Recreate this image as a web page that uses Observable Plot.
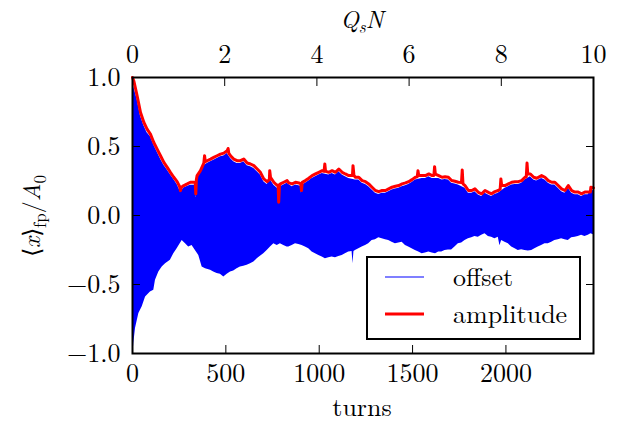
<!DOCTYPE html>
<html><head><meta charset="utf-8">
<script src="https://cdn.jsdelivr.net/npm/d3@7"></script>
<script src="https://cdn.jsdelivr.net/npm/@observablehq/plot@0.6"></script>
<style>body{margin:0;background:#fff}</style>
</head><body><div id="chart"></div>
<script>
// turns per unit of Q_s N (top axis: 10 at the right edge)
const qsTurns = 246.9;
const turnTicks = [0, 500, 1000, 1500, 2000];
const qsTicks = [0, 2, 4, 6, 8, 10];
const yTicks = [-1, -0.5, 0, 0.5, 1];
const legendLabels = ["offset", "amplitude"];

// amplitude (red) [turns, value]
const amplitude = [[0,1.0],[7,0.975],[25,0.866],[43,0.746],[61,0.674],[78,0.626],[96,0.590],[114,0.529],[132,0.481],[150,0.433],[168,0.385],[186,0.349],[203,0.313],[221,0.277],[239,0.245],[252,0.21],[257,0.18],[262,0.205],[275,0.217],[293,0.229],[310,0.241],[328,0.241],[336,0.24],[339,0.157],[342,0.26],[346,0.289],[364,0.325],[382,0.380],[386,0.433],[390,0.39],[400,0.397],[418,0.409],[435,0.421],[453,0.433],[471,0.445],[489,0.452],[507,0.469],[512,0.486],[516,0.45],[525,0.433],[542,0.409],[560,0.397],[578,0.397],[596,0.409],[614,0.380],[632,0.373],[650,0.361],[668,0.337],[685,0.313],[703,0.265],[721,0.245],[733,0.26],[735,0.325],[739,0.277],[757,0.241],[775,0.217],[780,0.22],[783,0.096],[787,0.22],[792,0.229],[810,0.241],[828,0.253],[837,0.236],[855,0.229],[873,0.241],[891,0.236],[901,0.23],[905,0.181],[909,0.24],[926,0.253],[944,0.27],[962,0.289],[980,0.301],[998,0.313],[1016,0.325],[1026,0.32],[1030,0.373],[1034,0.32],[1051,0.313],[1069,0.325],[1087,0.313],[1105,0.337],[1123,0.313],[1140,0.301],[1158,0.289],[1178,0.29],[1181,0.361],[1186,0.29],[1194,0.277],[1212,0.277],[1230,0.253],[1248,0.245],[1265,0.229],[1283,0.205],[1301,0.181],[1319,0.173],[1337,0.181],[1355,0.181],[1372,0.193],[1390,0.205],[1408,0.212],[1426,0.217],[1444,0.229],[1462,0.236],[1479,0.245],[1497,0.26],[1515,0.277],[1525,0.28],[1529,0.325],[1533,0.29],[1551,0.289],[1569,0.289],[1587,0.301],[1605,0.289],[1614,0.29],[1618,0.354],[1622,0.3],[1640,0.289],[1658,0.277],[1674,0.28],[1692,0.277],[1709,0.253],[1727,0.248],[1745,0.241],[1762,0.24],[1766,0.33],[1770,0.23],[1781,0.217],[1799,0.181],[1817,0.181],[1834,0.193],[1852,0.168],[1870,0.157],[1888,0.181],[1906,0.168],[1923,0.157],[1941,0.173],[1959,0.181],[1969,0.19],[1973,0.265],[1977,0.22],[1995,0.217],[2013,0.229],[2031,0.241],[2049,0.245],[2066,0.245],[2084,0.253],[2102,0.277],[2109,0.28],[2113,0.38],[2117,0.3],[2131,0.301],[2149,0.277],[2164,0.27],[2191,0.289],[2209,0.277],[2227,0.253],[2245,0.241],[2262,0.241],[2280,0.217],[2298,0.193],[2316,0.181],[2334,0.217],[2352,0.181],[2370,0.17],[2387,0.17],[2405,0.157],[2423,0.17],[2441,0.17],[2452,0.17],[2455,0.205],[2469,0.2]];

// offset (blue) upper envelope [turns, value]
const offsetUpper = [[0,0.97],[7,0.93],[25,0.84],[43,0.72],[61,0.65],[78,0.6],[96,0.57],[114,0.51],[132,0.46],[150,0.41],[168,0.365],[186,0.33],[203,0.295],[221,0.26],[239,0.225],[257,0.17],[275,0.2],[293,0.21],[310,0.22],[328,0.22],[336,0.22],[339,0.13],[342,0.24],[346,0.27],[364,0.305],[382,0.36],[400,0.377],[418,0.39],[435,0.4],[453,0.413],[471,0.425],[489,0.432],[507,0.45],[525,0.413],[542,0.39],[560,0.377],[578,0.377],[596,0.39],[614,0.36],[632,0.353],[650,0.34],[668,0.317],[685,0.293],[703,0.245],[721,0.225],[739,0.257],[757,0.22],[775,0.197],[780,0.2],[783,0.09],[786,0.2],[792,0.209],[810,0.221],[828,0.233],[855,0.209],[873,0.221],[891,0.216],[902,0.21],[905,0.16],[908,0.22],[926,0.233],[944,0.25],[962,0.269],[980,0.281],[998,0.293],[1016,0.305],[1051,0.293],[1069,0.305],[1087,0.293],[1105,0.317],[1123,0.293],[1140,0.281],[1158,0.269],[1194,0.257],[1212,0.257],[1230,0.233],[1248,0.225],[1265,0.209],[1283,0.185],[1301,0.161],[1319,0.153],[1337,0.161],[1355,0.161],[1372,0.173],[1390,0.185],[1408,0.192],[1426,0.197],[1444,0.209],[1462,0.216],[1479,0.225],[1497,0.24],[1515,0.257],[1551,0.269],[1569,0.269],[1587,0.281],[1605,0.269],[1640,0.269],[1658,0.257],[1674,0.26],[1692,0.257],[1709,0.233],[1727,0.228],[1745,0.221],[1781,0.197],[1799,0.161],[1817,0.161],[1834,0.173],[1852,0.148],[1870,0.137],[1888,0.161],[1906,0.148],[1923,0.137],[1941,0.153],[1959,0.161],[1995,0.197],[2013,0.209],[2031,0.221],[2049,0.225],[2066,0.225],[2084,0.233],[2102,0.257],[2131,0.281],[2149,0.257],[2164,0.25],[2191,0.269],[2209,0.257],[2227,0.233],[2245,0.221],[2262,0.221],[2280,0.197],[2298,0.173],[2316,0.161],[2334,0.197],[2352,0.161],[2370,0.15],[2387,0.15],[2405,0.137],[2423,0.15],[2441,0.15],[2455,0.185],[2469,0.18]];

// offset (blue) lower envelope [turns, value]
const offsetLower = [[0,-0.97],[4,-0.98],[7,-0.926],[16,-0.818],[34,-0.710],[52,-0.662],[70,-0.590],[96,-0.554],[114,-0.542],[123,-0.469],[141,-0.409],[159,-0.373],[177,-0.349],[203,-0.325],[221,-0.277],[239,-0.241],[266,-0.181],[284,-0.205],[301,-0.229],[319,-0.217],[337,-0.253],[355,-0.289],[373,-0.373],[391,-0.385],[418,-0.397],[435,-0.409],[453,-0.421],[471,-0.426],[489,-0.445],[507,-0.426],[525,-0.409],[542,-0.402],[560,-0.385],[578,-0.373],[596,-0.368],[614,-0.361],[632,-0.349],[650,-0.337],[668,-0.313],[685,-0.296],[703,-0.277],[721,-0.253],[739,-0.229],[757,-0.205],[775,-0.217],[792,-0.205],[810,-0.217],[828,-0.229],[837,-0.229],[855,-0.217],[873,-0.205],[891,-0.21],[908,-0.217],[926,-0.229],[944,-0.241],[962,-0.265],[980,-0.277],[998,-0.289],[1016,-0.301],[1033,-0.313],[1051,-0.306],[1069,-0.301],[1087,-0.306],[1105,-0.297],[1123,-0.289],[1140,-0.277],[1158,-0.265],[1176,-0.26],[1181,-0.349],[1186,-0.26],[1194,-0.253],[1212,-0.241],[1230,-0.229],[1248,-0.217],[1265,-0.205],[1283,-0.181],[1301,-0.176],[1319,-0.161],[1337,-0.169],[1355,-0.176],[1372,-0.181],[1390,-0.193],[1408,-0.205],[1426,-0.2],[1444,-0.193],[1462,-0.217],[1479,-0.229],[1497,-0.241],[1515,-0.253],[1533,-0.265],[1551,-0.277],[1569,-0.272],[1587,-0.265],[1605,-0.272],[1623,-0.277],[1640,-0.265],[1656,-0.265],[1674,-0.253],[1692,-0.25],[1709,-0.25],[1727,-0.229],[1745,-0.205],[1763,-0.2],[1781,-0.181],[1799,-0.169],[1817,-0.161],[1834,-0.152],[1852,-0.157],[1870,-0.144],[1888,-0.132],[1906,-0.152],[1923,-0.157],[1941,-0.169],[1959,-0.157],[1968,-0.22],[1977,-0.181],[1995,-0.193],[2013,-0.205],[2031,-0.229],[2049,-0.241],[2066,-0.253],[2084,-0.248],[2102,-0.253],[2120,-0.258],[2138,-0.253],[2155,-0.241],[2173,-0.229],[2191,-0.217],[2209,-0.205],[2227,-0.205],[2245,-0.193],[2262,-0.181],[2280,-0.176],[2298,-0.169],[2316,-0.176],[2334,-0.181],[2352,-0.161],[2370,-0.157],[2387,-0.152],[2405,-0.144],[2423,-0.152],[2441,-0.144],[2455,-0.132],[2469,-0.14]];

const FONT = "'Latin Modern Roman', 'CMU Serif', 'Liberation Serif', serif";
const FS = "26px";
const chart = Plot.plot({
  width: 628, height: 426,
  marginLeft: 132, marginRight: 35, marginTop: 77, marginBottom: 73,
  style: {fontFamily: FONT, fontSize: FS, background: "#fff", color: "#000"},
  x: {domain: [0, qsTurns * 10]},
  y: {domain: [-1, 1]},
  marks: [
    Plot.areaY(offsetUpper, {x: d => d[0], y1: 0, y2: d => d[1], fill: "#0000ff"}),
    Plot.areaY(offsetLower, {x: d => d[0], y1: d => d[1], y2: 0, fill: "#0000ff"}),
    Plot.line(amplitude, {x: d => d[0], y: d => d[1], stroke: "#ff0000", strokeWidth: 3}),
    Plot.axisX({anchor: "bottom", ticks: turnTicks, tickFormat: d => String(d), tickSize: -8, tickPadding: 18, label: null, fontFamily: FONT, fontSize: 26}),
    Plot.axisX({anchor: "top", ticks: qsTicks.map(k => k * qsTurns), tickFormat: d => String(Math.round(d / qsTurns)), tickSize: -8, tickPadding: 23, label: null, fontFamily: FONT, fontSize: 26}),
    Plot.axisY({anchor: "left", ticks: yTicks, tickFormat: d3.format(".1f"), tickSize: -8, tickPadding: 20, label: null, fontFamily: FONT, fontSize: 26}),
    Plot.axisY({anchor: "right", ticks: yTicks, tickFormat: () => "", tickSize: -8, tickPadding: 0, label: null}),
    Plot.frame({stroke: "#000", strokeWidth: 2})
  ]
});
chart.setAttribute("font-family", FONT);
document.getElementById("chart").appendChild(chart);

const svg = d3.select(chart);
function txt(sel, fs) { return sel.attr("font-family", FONT).style("font-family", FONT).style("font-size", fs || FS); }
// top label Q_s N
const tl = txt(svg.append("text").attr("x", 362).attr("y", 28).attr("text-anchor", "middle"), "24px");
tl.append("tspan").attr("font-style", "italic").text("Q");
tl.append("tspan").attr("font-style", "italic").attr("dy", 5).style("font-size", "17px").text("s");
tl.append("tspan").attr("font-style", "italic").attr("dy", -5).text("N");
// bottom label
txt(svg.append("text").attr("x", 362).attr("y", 416).attr("text-anchor", "middle")).text("turns");
// y label
const yl = txt(svg.append("text").attr("transform", "translate(40,216) rotate(-90)").attr("text-anchor", "middle"), "24px");
yl.append("tspan").text("⟨");
yl.append("tspan").attr("font-style", "italic").text("x");
yl.append("tspan").text("⟩");
yl.append("tspan").attr("dy", 6).style("font-size", "17px").text("fp");
yl.append("tspan").attr("dy", -6).text("/");
yl.append("tspan").attr("font-style", "italic").text("A");
yl.append("tspan").attr("dy", 6).style("font-size", "17px").text("0");
// legend
const lg = svg.append("g");
lg.append("rect").attr("x", 367).attr("y", 257).attr("width", 213).attr("height", 82)
  .attr("fill", "#fff").attr("stroke", "#000").attr("stroke-width", 2);
const legendColors = ["#0000ff", "#ff0000"], legendWidths = [1.2, 3], legendY = [277, 314];
legendLabels.forEach((t, i) => {
  lg.append("line").attr("x1", 385).attr("x2", 424).attr("y1", legendY[i]).attr("y2", legendY[i])
    .attr("stroke", legendColors[i]).attr("stroke-width", legendWidths[i]);
  txt(lg.append("text").attr("x", 453).attr("y", legendY[i] + 9).attr("text-anchor", "start")).text(t);
});
</script>
</body></html>
